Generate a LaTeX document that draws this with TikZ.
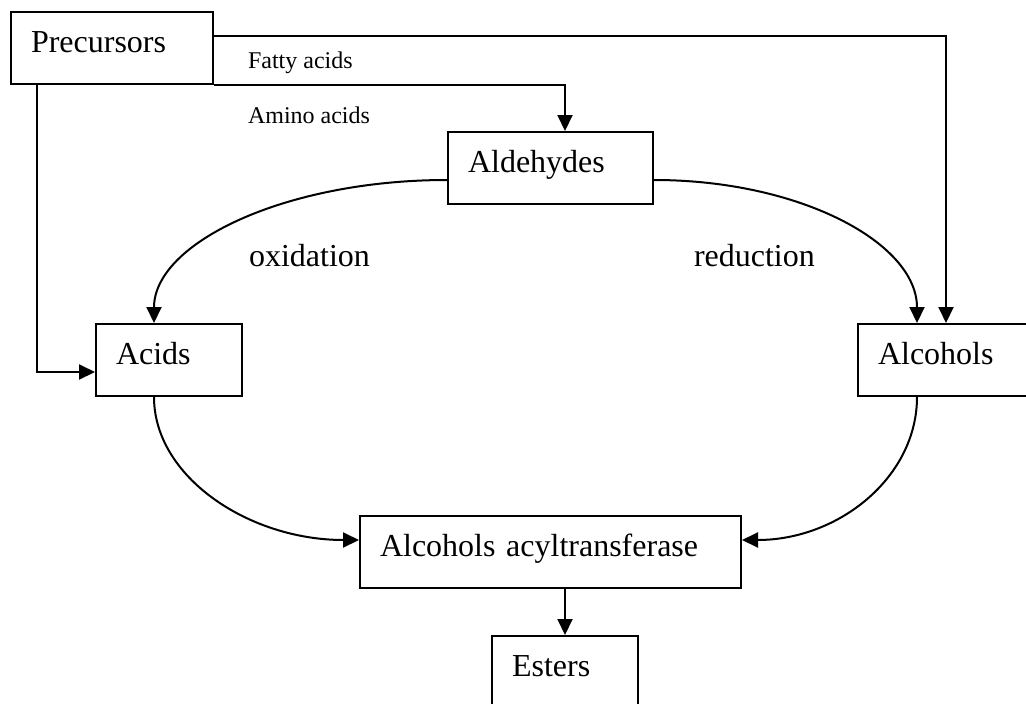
\documentclass[tikz,border=0pt]{standalone}
\usepackage{fontspec}
\setmainfont{Liberation Serif}
\usepackage{tikz}
\usetikzlibrary{arrows.meta, positioning}

\begin{document}
\begin{tikzpicture}[
      x=1pt, y=1pt, on grid, line width=2pt,
      >={Triangle[length=16pt,width=15pt]},
      box/.style={draw, rectangle, inner xsep=20pt, inner ysep=0pt, align=left,
        text height=40pt, text depth=32pt, font=\fontsize{32}{37}\selectfont},
      small/.style={anchor=base west, inner sep=0pt, font=\fontsize{24}{28}\selectfont},
      big/.style={anchor=base west, inner sep=0pt, font=\fontsize{32}{37}\selectfont},
      ]
      \useasboundingbox (0,0) rectangle (1026,-704);

      \node[box, text width=162pt]  (prec) at (112,-48)                      {Precursors};
      \node[box, text width=165pt]  (ald)  [below right=120pt and 438.5pt of prec] {Aldehydes};
      \node[box, text width=106pt]  (acid) [below left=192pt and 381.5pt of ald]  {Acids};
      \node[box, text width=136pt]  (alc)  [right=777pt of acid]              {Alcohols};
      \node[box, text width=341pt]  (aat)  [below=384pt of ald]               {Alcohols acyltransferase};
      \node[box, text width=106pt]  (est)  [below right=120pt and 14.5pt of aat]  {Esters};

      \node[small] (fatty) at (247,-68)  {Fatty acids};
      \node[small] (amino) at (247,-123) {Amino acids};
      \node[big]   (oxi)   at (248,-266) {oxidation};
      \node[big]   (red)   at (693,-266) {reduction};

      \draw[->] ([yshift=12pt]prec.east) -| (alc.north);
      \draw[->] (prec.south east) -| ([xshift=14.5pt]ald.north);
      \draw[->] ([xshift=-75pt]prec.south) |- ([yshift=-12pt]acid.west);
      \draw[->] ([yshift=-12pt]ald.west) to[out=180, in=90, out distance=162pt, in distance=80pt] ([xshift=-15pt]acid.north);
      \draw[->] ([yshift=-12pt]ald.east) to[out=0, in=90, out distance=146pt, in distance=80pt] ([xshift=-29pt]alc.north);
      \draw[->] ([xshift=-15pt]acid.south) to[out=-90, in=180, out distance=80pt, in distance=110pt] ([yshift=12pt]aat.west);
      \draw[->] ([xshift=-29pt]alc.south) to[out=-90, in=0, out distance=80pt, in distance=97pt] ([yshift=12pt]aat.east);
      \draw[->] (aat.south -| est.north) -- (est.north);
    \end{tikzpicture}
\end{document}
